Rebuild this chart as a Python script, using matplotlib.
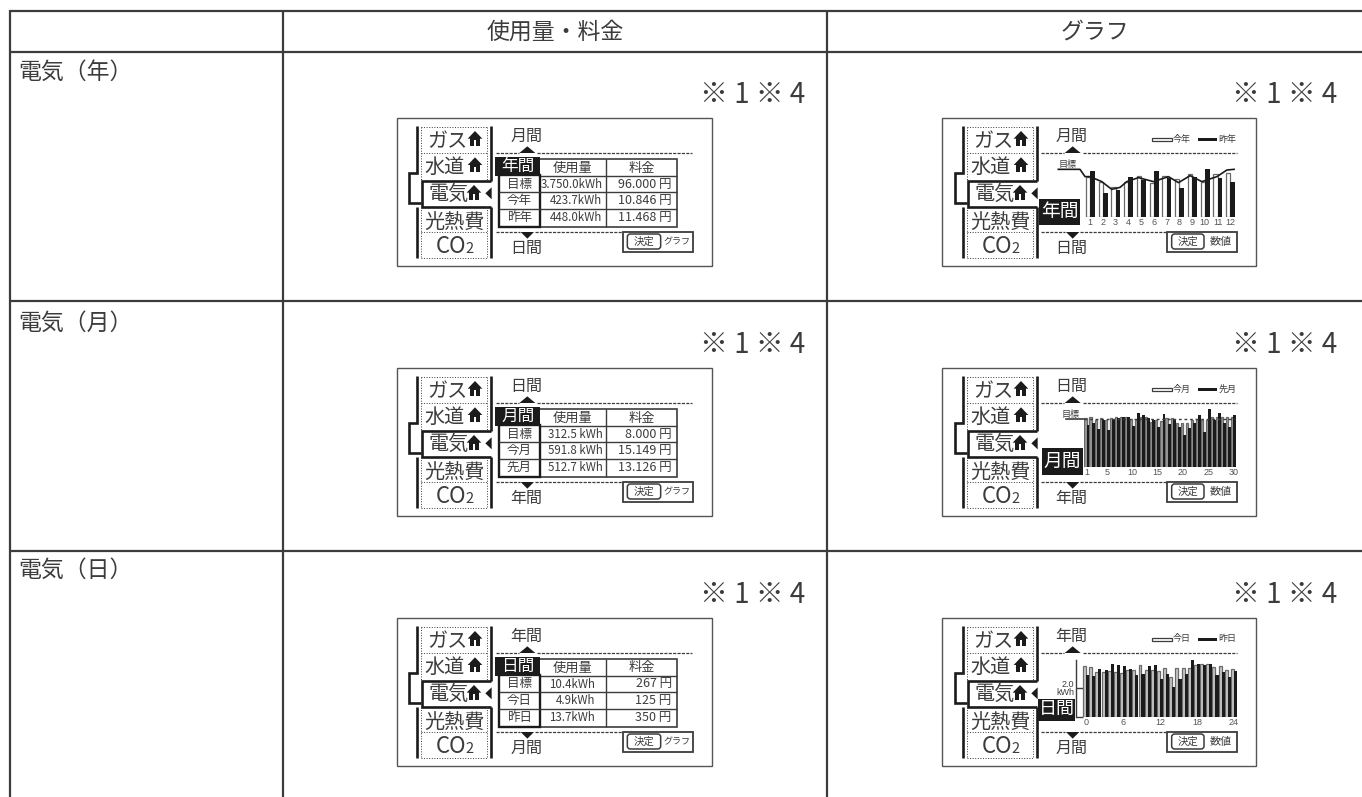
import matplotlib
matplotlib.use('Agg')
import matplotlib.pyplot as plt
from matplotlib.patches import Polygon, Rectangle, FancyBboxPatch

plt.rcParams['font.family'] = ['Noto Sans CJK JP', 'DejaVu Sans']

W, H = 1362, 797
INK = '#3c3c3c'
BLACK = '#1b1b1b'
SMALL = ['Liberation Sans', 'DejaVu Sans']

# table text
columns = ['使用量・料金', 'グラフ']
row_titles = ['電気（年）', '電気（月）', '電気（日）']
note = '※ 1 ※ 4'
menu = ['ガス', '水道', '電気', '光熱費']
nav_top = ['月間', '日間', '年間']
nav_bottom = ['日間', '年間', '月間']
period = ['年間', '月間', '日間']
row_names = [['目標', '今年', '昨年'], ['目標', '今月', '先月'], ['目標', '今日', '昨日']]
usage = [['3.750.0kWh', '423.7kWh', '448.0kWh'],
         ['312.5 kWh', '591.8 kWh', '512.7 kWh'],
         ['10.4kWh', '4.9kWh', '13.7kWh']]
cost = [['96.000 円', '10.846 円', '11.468 円'],
        ['8.000 円', '15.149 円', '13.126 円'],
        ['267 円', '125 円', '350 円']]
legend_names = [['今年', '昨年'], ['今月', '先月'], ['今日', '昨日']]

# bar heights, in pixels of the picture (the source has no readable scale)
months = list(range(1, 13))
year_now = [40.7, 35.7, 30, 35.7, 41.3, 34.7, 41.3, 38, 43, 35.7, 43, 44.7]
year_prev = [46.7, 24, 27.3, 40.7, 37.3, 46.7, 39, 29.7, 40.7, 48, 39, 35]
year_target_x = [-1.49, 0.21, 0.61, 1, 1.92, 2.7, 3.36, 3.88, 4.8, 5.97, 7.15, 7.94, 8.85, 9.77, 10.95, 11.73, 12.3]
year_target_y = [48, 48, 40.7, 40.7, 35.7, 28, 30, 35.7, 39.7, 35.7, 40.7, 34.7, 41.7, 35.7, 40.7, 47.3, 48]

days = list(range(1, 31))
month_now = [49, 50, 47.3, 49, 47.3, 49, 50, 50, 50, 48, 47.3, 50.7, 50, 45.7, 47.3,
             46.7, 49, 49, 44.7, 44.7, 44.7, 47.3, 48, 47.3, 47.3, 50.7, 50, 50, 50.7, 50.7]
month_prev = [42.3, 44, 38, 47.3, 37.3, 48, 49, 50, 50.7, 41.3, 54.7, 52.3, 49, 47.3, 40,
              53.3, 43.3, 48, 40, 32.3, 39, 44.7, 52.3, 35.7, 58, 47.3, 54.7, 44, 40.7, 52.3]
month_target = 48

hours = list(range(0, 25))
day_now = [51.7, 50.3, 45.3, 45.3, 46.3, 45.3, 44.3, 47.7, 47.7, 52, 47, 47.7, 46.3,
           49.7, 40.3, 49.7, 49.7, 49.7, 52, 53, 53.7, 50.3, 51.7, 47.7, 48.7]
day_prev = [42, 41, 48.7, 47.7, 53, 52, 51, 48.7, 42, 43.7, 51, 52, 38,
            43, 30.3, 38, 43.7, 57, 53.7, 52, 53.7, 42, 45.3, 40.3, 46.3]
day_tick = 29

fig = plt.figure(figsize=(W / 100, H / 100), dpi=100)
ax = fig.add_axes([0, 0, 1, 1])
ax.set_xlim(0, W)
ax.set_ylim(H, 0)
ax.axis('off')


def line(xs, ys, lw=1.5, color=INK, ls='-', z=2):
    ax.plot(xs, ys, color=color, lw=lw, ls=ls, solid_capstyle='butt',
            solid_joinstyle='miter', zorder=z)


# outer table
for x in [10, 283, 827]:
    line([x, x], [10, 797], lw=1.6)
for y in [10.5, 52, 301, 551]:
    line([10, W], [y, y], lw=1.6)
ax.text(555, 32, columns[0], fontsize=16.5, color=INK, ha='center', va='center')
ax.text(1095, 32, columns[1], fontsize=16.5, color=INK, ha='center', va='center')
for i, y in enumerate([72, 323, 570]):
    ax.text(18, y, row_titles[i], fontsize=16.5, color=INK, ha='left', va='center')
for y in [95, 345, 595]:
    ax.text(805, y, note, fontsize=20, color=INK, ha='right', va='center')
    ax.text(1337, y, note, fontsize=20, color=INK, ha='right', va='center')


def house(px, py, cx, cy):
    ax.add_patch(Polygon([(px(cx - 22), py(cy - 2)), (px(cx), py(cy - 25)), (px(cx + 22), py(cy - 2))],
                         fc=BLACK, ec='none', zorder=3))
    ax.add_patch(Rectangle((px(cx - 14), py(cy - 3)), 28 / 3, 23 / 3, fc=BLACK, ec='none', zorder=3))
    ax.add_patch(Rectangle((px(cx - 4), py(cy + 3)), 8 / 3, 17 / 3, fc='white', ec='none', zorder=4))


def sidebar(px, py, off):
    # thick rails and the bracket round the selected entry
    X = lambda v: px(v + off)
    Y = py
    line([X(52), X(52), X(28), X(28), X(63)], [Y(48), Y(188), Y(188), Y(278), Y(278)], lw=1.9, color=BLACK)
    line([X(52), X(52)], [Y(290), Y(445)], lw=1.9, color=BLACK)
    line([X(272), X(272)], [Y(48), Y(212)], lw=1.9, color=BLACK)
    line([X(272), X(272)], [Y(290), Y(445)], lw=1.9, color=BLACK)
    line([X(272), X(65), X(65), X(272)], [Y(212), Y(212), Y(290), Y(290)], lw=1.9, color=BLACK)
    # dotted inner box
    line([X(63), X(63)], [Y(50), Y(212)], lw=0.7, ls=':')
    line([X(63), X(63)], [Y(290), Y(445)], lw=0.7, ls=':')
    line([X(262), X(262)], [Y(50), Y(212)], lw=0.7, ls=':')
    line([X(262), X(262)], [Y(290), Y(445)], lw=0.7, ls=':')
    for v in [50, 128, 365, 445]:
        line([X(63), X(262)], [Y(v), Y(v)], lw=0.7, ls=':')
    for name, cx, cy in zip(menu, [143, 135, 145, 163], [94, 171, 252, 338]):
        ax.text(X(cx), Y(cy), name, fontsize=14.5, color=INK, ha='center', va='center')
    ax.text(X(152), Y(409), 'CO', fontsize=16, color=INK, ha='center', va='center')
    ax.text(X(210), Y(417), '2', fontsize=10.5, color=INK, ha='center', va='center')
    house(px, py, 225 + off, 88)
    house(px, py, 225 + off, 167)
    house(px, py, 222 + off, 250)
    ax.add_patch(Polygon([(X(275), Y(232)), (X(256), Y(250)), (X(275), Y(268))], fc=BLACK, ec='none', zorder=3))


def nav(px, py, top, bottom, cx, d1, d2, d3, d4):
    line([px(d1), px(cx - 26)], [py(128), py(128)], lw=0.9, ls=(0, (2.5, 1)))
    line([px(cx + 30), px(d2)], [py(128), py(128)], lw=0.9, ls=(0, (2.5, 1)))
    line([px(d1), px(cx - 22)], [py(365), py(365)], lw=0.9, ls=(0, (2.5, 1)))
    line([px(cx + 22), px(d4)], [py(365), py(365)], lw=0.9, ls=(0, (2.5, 1)))
    ax.add_patch(Polygon([(px(cx - 24), py(129)), (px(cx), py(109)), (px(cx + 24), py(129))],
                         fc=BLACK, ec='none', zorder=3))
    ax.add_patch(Polygon([(px(cx - 20), py(366)), (px(cx), py(386)), (px(cx + 20), py(366))],
                         fc=BLACK, ec='none', zorder=3))
    ax.text(px(cx - 3), py(80), top, fontsize=11.5, color=INK, ha='center', va='center')
    ax.text(px(cx - 3), py(416), bottom, fontsize=11.5, color=INK, ha='center', va='center')


def button(px, py, x0, x1, rx0, rx1, label, tx, size):
    ax.add_patch(Rectangle((px(x0), py(365)), (x1 - x0) / 3, 20, fc='white', ec=INK, lw=1.3, zorder=3))
    ax.add_patch(FancyBboxPatch((px(rx0) + 3, py(372) + 3), (rx1 - rx0) / 3 - 6, 15 - 6,
                                boxstyle='round,pad=3', fc='white', ec=INK, lw=1.1, zorder=4))
    ax.text(px((rx0 + rx1) / 2), py(395), '決定', fontsize=7.5, color=INK, ha='center', va='center', zorder=5)
    ax.text(px(tx), py(395), label, fontsize=size, color=INK, ha='center', va='center', zorder=5)


def chart_axes(px, py, z0, z1, ztop, zbase, xlim, ymax):
    a = fig.add_axes([px(z0) / W, 1 - py(zbase) / H, (z1 - z0) / 3 / W, (zbase - ztop) / 3 / H])
    a.set_xlim(*xlim)
    a.set_ylim(0, ymax)
    a.patch.set_alpha(0)
    for s in a.spines.values():
        s.set_visible(False)
    a.set_yticks([])
    a.tick_params(axis='x', length=0, pad=0.5)
    return a


def pair_bars(a, xs, now, prev, w_now, w_prev, fill):
    a.bar([x - w_now / 2 for x in xs], now, width=w_now, fc=fill, ec='#6a6a6a', lw=0.9, zorder=2)
    a.bar([x + w_prev / 2 for x in xs], prev, width=w_prev, fc=BLACK, ec='none', zorder=3)


def x_labels(a, ticks):
    a.set_xticks(ticks, [str(t) for t in ticks], color='#555555', fontsize=6.5, family=SMALL)


for r, oy in enumerate([110, 360, 610]):
    # usage / cost panel
    ox = 400
    px = lambda v: ox + v / 3
    py = lambda v: oy + v / 3
    ax.add_patch(Rectangle((397, py(25)), 315, 148, fc='white', ec='#555555', lw=1.0, zorder=1))
    sidebar(px, py, 0)
    nav(px, py, nav_top[r], nav_bottom[r], 382, 288, 875, 288, 665)
    line([px(420), px(830), px(830), px(420)], [py(148), py(148), py(350), py(350)], lw=1.2)
    for v in [197, 247, 298]:
        line([px(420), px(830)], [py(v), py(v)], lw=1.0)
    line([px(618), px(618)], [py(148), py(350)], lw=1.0)
    line([px(297), px(297), px(420), px(420), px(297)], [py(195), py(350), py(350), py(195), py(195)], lw=1.7, color=BLACK)
    line([px(297), px(420)], [py(247), py(247)], lw=1.0)
    line([px(297), px(420)], [py(298), py(298)], lw=1.0)
    ax.add_patch(Rectangle((px(285), py(140)), 135 / 3, 57 / 3, fc=BLACK, ec='none', zorder=3))
    ax.text(px(353), py(169), period[r], fontsize=12, color='white', ha='center', va='center', zorder=4)
    ax.text(px(518), py(174), '使用量', fontsize=9.5, color=INK, ha='center', va='center')
    ax.text(px(725), py(174), '料金', fontsize=9.5, color=INK, ha='center', va='center')
    kwh_right = 585 if r == 2 else 607
    for name, u, c, v in zip(row_names[r], usage[r], cost[r], [222, 271, 323]):
        ax.text(px(358), py(v), name, fontsize=9, color=INK, ha='center', va='center')
        ax.text(px(kwh_right), py(v), u, fontsize=8.3, color=INK, ha='right', va='center')
        ax.text(px(815), py(v), c, fontsize=9, color=INK, ha='right', va='center')
    button(px, py, 668, 878, 682, 782, 'グラフ', 830, 6.5)

    # graph panel
    ox = 930
    px = lambda v: ox + v / 3
    ax.add_patch(Rectangle((942, py(25)), 314, 148, fc='white', ec='#555555', lw=1.0, zorder=1))
    sidebar(px, py, 48)
    nav(px, py, nav_top[r], nav_bottom[r], 428, 332, 920, 332, 710)
    button(px, py, 710, 920, 725, 822, '数値', 872, 8)
    ax.add_patch(Rectangle((px(665), py(83)), 20, 3.5, fc='white', ec=INK, lw=0.9, zorder=3))
    ax.add_patch(Rectangle((px(805), py(83)), 57 / 3, 3.5, fc=BLACK, ec='none', zorder=3))
    ax.text(px(728), py(87), legend_names[r][0], fontsize=6.5, color=INK, ha='left', va='center')
    ax.text(px(866), py(87), legend_names[r][1], fontsize=6.5, color=INK, ha='left', va='center')
    box = {0: (328, 450, 268, 345), 1: (337, 458, 265, 345), 2: (325, 435, 268, 332)}[r]
    ax.add_patch(Rectangle((px(box[0]), py(box[2])), (box[1] - box[0]) / 3, (box[3] - box[2]) / 3,
                           fc=BLACK, ec='none', zorder=3))
    ax.text(px((box[0] + box[1]) / 2), py((box[2] + box[3]) / 2 - 2), period[r],
            fontsize=13 if r == 2 else 13.5, color='white', ha='center', va='center', zorder=4)

    if r == 0:
        a = chart_axes(px, py, 461, 920, 130, 322, (0.5, 12.5), 64)
        pair_bars(a, months, year_now, year_prev, 0.32, 0.37, 'white')
        a.plot(year_target_x, year_target_y, color=BLACK, lw=1.2, clip_on=False, zorder=4)
        x_labels(a, months)
        ax.text(px(412), py(163), '目標', fontsize=6.5, color=INK, ha='center', va='center')
    elif r == 1:
        a = chart_axes(px, py, 462, 918, 130, 322, (0.5, 30.5), 64)
        pair_bars(a, days, month_now, month_prev, 0.42, 0.58, '#9a9a9a')
        a.plot([-3, 0.5], [month_target, month_target], color=INK, lw=1.2, clip_on=False, zorder=4)
        a.plot([0.5, 30.5], [month_target, month_target], color=INK, lw=1.0, ls=(0, (2, 2)), zorder=4)
        x_labels(a, [1, 5, 10, 15, 20, 25, 30])
        ax.text(px(422), py(163), '目標', fontsize=6.5, color=INK, ha='center', va='center')
    else:
        a = chart_axes(px, py, 437, 921, 150, 322, (-1.68, 24.5), 57.3)
        pair_bars(a, hours, day_now, day_prev, 0.48, 0.5, '#c8c8c8')
        a.spines['left'].set_visible(True)
        a.spines['left'].set_color(INK)
        a.spines['left'].set_linewidth(1.0)
        a.set_yticks([0, day_tick], ['', '2.0\nkWh'], fontsize=6.5, color=INK, linespacing=0.8, family=SMALL)
        a.tick_params(axis='y', direction='in', length=5, width=1.0, pad=1, color=INK)
        x_labels(a, [0, 6, 12, 18, 24])

fig.savefig('out.png', dpi=100)
